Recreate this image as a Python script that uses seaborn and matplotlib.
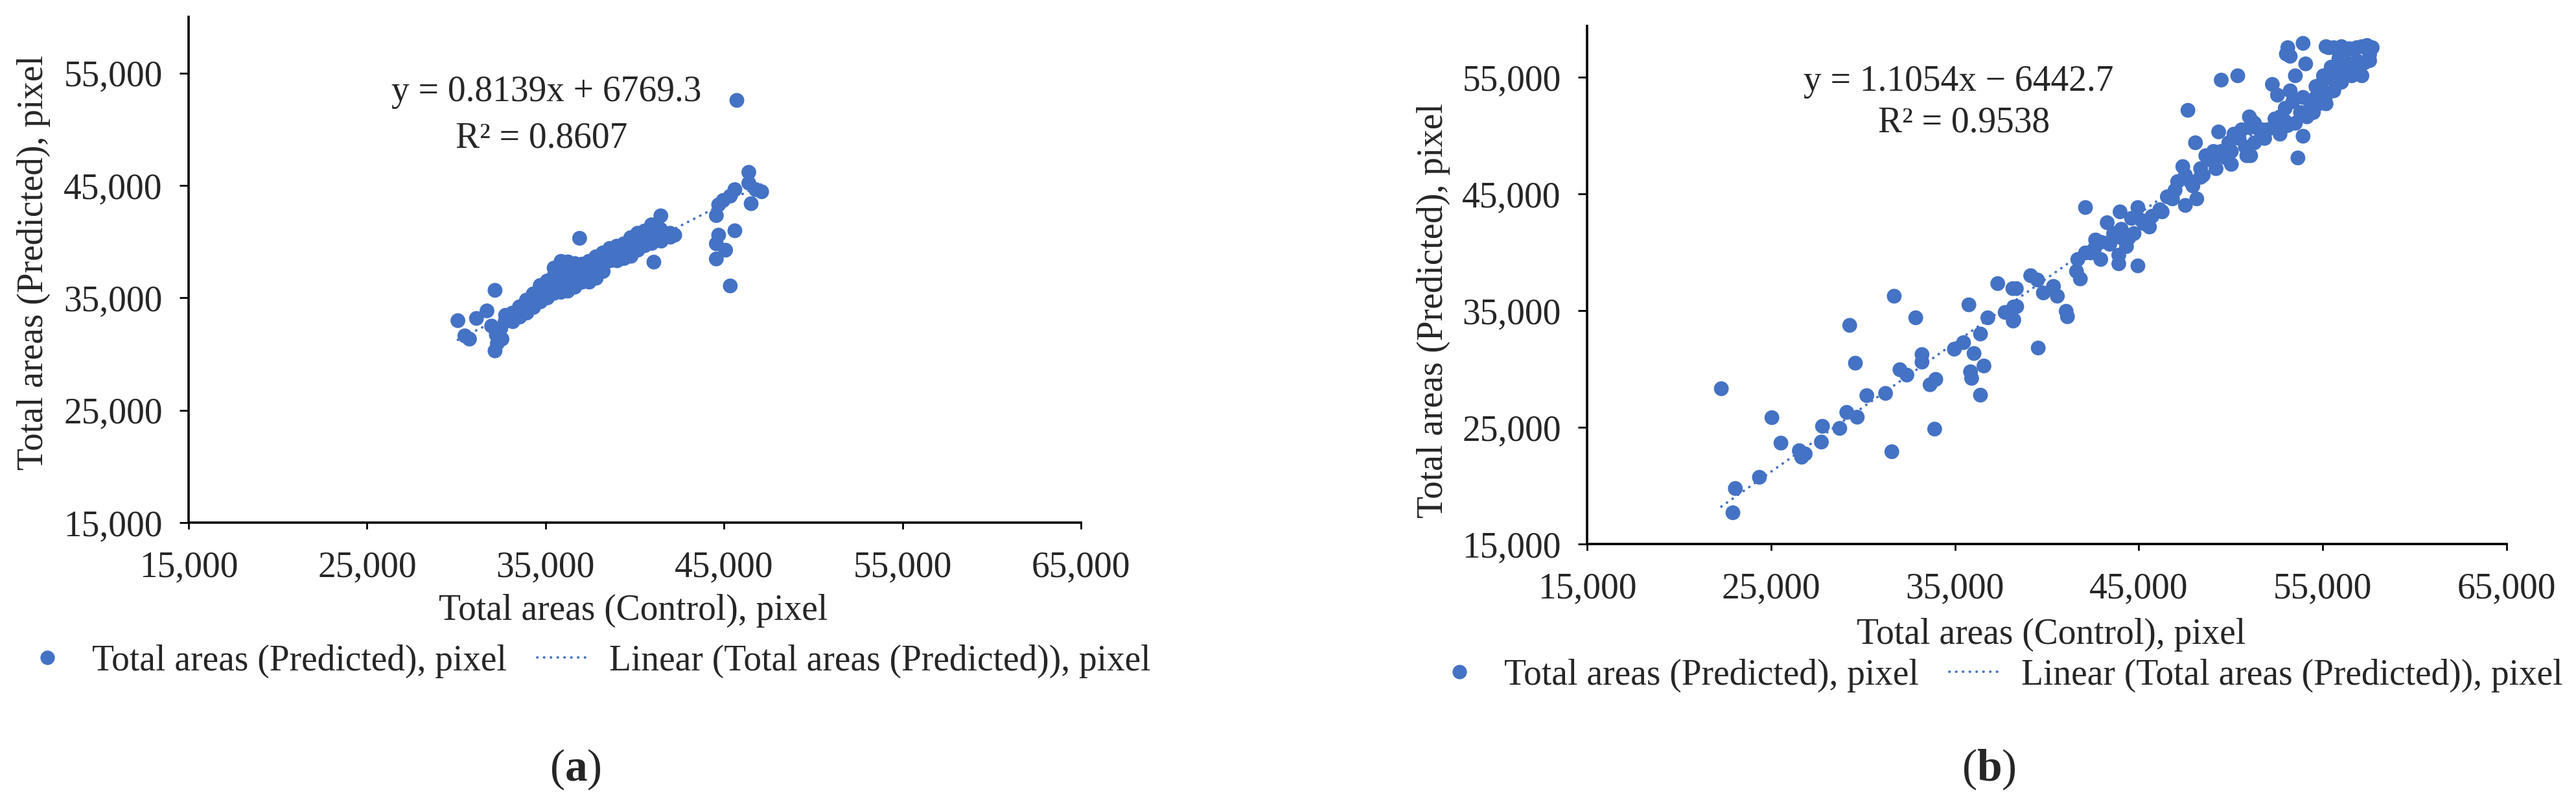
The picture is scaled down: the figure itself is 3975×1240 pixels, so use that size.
import numpy as np
import pandas as pd
import matplotlib
matplotlib.use("Agg")
import matplotlib.pyplot as plt
import seaborn as sns
from matplotlib.lines import Line2D
from matplotlib.ticker import FixedLocator, FuncFormatter

# ---------------- data ----------------
# Panel (a): Total areas (Control) vs Total areas (Predicted), pixel
a_control = [
    30090, 30480, 30740, 31130, 31720, 32170, 31980, 32240, 32300, 32170, 32560, 32500,
    32760, 32740,
    33150, 33130, 33170,
    33540, 33520, 33560,
    33930, 33910, 33950,
    34310, 34290, 34330,
    34700, 34680, 34720,
    35090, 35070, 35110,
    35480, 35460, 35500, 35470,
    35870, 35850, 35890, 35860,
    36260, 36240, 36280, 36250,
    36650, 36630, 36670, 36640,
    37040, 37020, 37060,
    37430, 37410, 37450,
    37820, 37800, 37840,
    38210, 38190, 38230,
    38600, 38620,
    38990, 38970, 39010,
    39380, 39360, 39400,
    39770, 39750, 39790,
    40160, 40140, 40180,
    40550, 40530, 40570,
    40940, 40920, 40960,
    41460, 41440, 41480,
    41980, 42000,
    42240,
    36910, 41070, 45720,
    44570, 44700, 44960, 45350, 45610, 46390, 46390, 46780, 47110, 46520,
    45610, 44700, 44570, 45090, 44570, 45350,
]
a_predicted = [
    32970, 31620, 31330, 33170, 33840, 35670, 32490, 31720, 30950, 30280, 31330, 32300,
    33450, 32900,
    33650, 33250, 32880,
    34200, 33700, 33300,
    34800, 34200, 33650,
    35350, 34750, 34150,
    36100, 35400, 34650,
    36500, 35800, 35000,
    37650, 36900, 36100, 35400,
    38250, 37300, 36400, 35500,
    38200, 37350, 36450, 35600,
    38050, 37300, 36600, 35950,
    38000, 37200, 36400,
    38250, 37300, 36400,
    38650, 37700, 36750,
    39000, 38150, 37350,
    39400, 38300,
    39600, 38900, 38300,
    39800, 39100, 38500,
    40350, 39500, 38700,
    40750, 40000, 39250,
    40950, 40300, 39650,
    41500, 40650, 39850,
    42300, 41100, 40050,
    40750, 40400,
    40580,
    40300, 38180, 52570,
    42320, 43280, 43670, 44050, 44630, 46170, 45210, 44630, 44440, 43380,
    40970, 40580, 39810, 39240, 38460, 36060,
]

# Panel (b)
b_control = [
    22300, 22930, 23060, 24370, 25050, 25540, 26540, 26860, 26670, 27740, 27800, 28740,
    29120, 29690, 29280, 29590, 30210, 31230, 31700, 31570, 32010, 32390, 32870, 33210,
    33210, 33650, 33960, 33900, 34970, 35470, 35760, 36040, 35850, 35910, 36390, 36580,
    36390, 36790, 37330, 38150, 37730, 38360, 38170, 39120, 39490, 39810, 39530,
    38200, 38200, 38340, 40360, 40570, 41050, 41120, 41610, 41820, 42100, 42100, 42590,
    42930, 43280, 43420, 43910, 43980, 43910, 44050, 44330, 44740, 44950, 44950, 45300,
    45580, 46270, 46830, 46970, 47390, 47670, 47530, 47810, 48080, 48150, 48500, 48920,
    49340, 49060, 49480, 49750, 50030, 50380, 50450, 50800, 51010, 51080, 51290, 51700,
    51840, 51980, 52400, 52260, 52540, 52680, 52950, 53100, 53230, 53510, 53650, 53790,
    53930, 53930, 54070, 53930, 54350, 54630, 54770, 55040, 55180, 55320, 55460, 55740,
    55880, 56020, 56300, 56580, 56850, 57130, 57410, 57550, 57690,
    55180, 55600, 56020, 56440, 57130, 57550, 57270, 56850, 56160, 55740, 55320, 54900,
    55600, 55040, 54630, 54490, 55180, 56020, 56580, 56990, 54140, 53510, 53100, 52680,
    53370, 52960, 52400, 51560, 51290, 53230, 53020,
    46550, 47110, 47530, 47940, 48360, 48640, 49060, 49480, 49890, 50170, 50590, 51010,
    51150, 50870, 50030, 49200, 48360,
    41680, 42380, 42650, 42930, 43630, 44050, 44460, 44600, 45160, 45720, 46140,
]
b_predicted = [
    28310, 17680, 19760, 20720, 25830, 23650, 23000, 22720, 22440, 23740, 25090, 24910,
    26280, 25870, 33740, 30500, 27720, 27910, 36240, 22910, 29940, 29480, 34390, 31240,
    30590, 28650, 29110, 24850, 31700, 32260, 35500, 31330, 29760, 29200, 33000, 30260,
    27760, 34390, 37320, 36890, 34850, 35350, 34110, 38000, 37630, 36520, 31800,
    34210, 35320, 36890, 37080, 36240, 34950, 34480, 38370, 37720, 43840, 39950, 40320,
    39390, 42540, 40690, 39760, 43470, 39020, 41240, 40500, 41610, 43840, 38840, 42450,
    42170, 43470, 44580, 45320, 47350, 52170, 44020, 46060, 49390, 44580, 46610, 47910,
    50320, 48650, 54760, 48090, 47540, 55130, 49760, 49020, 51610, 48280, 51060, 50500,
    49760, 50500, 51430, 54390, 53470, 50130, 51240, 57540, 56800, 55130, 48090, 51980,
    57910, 49950, 56150, 53280, 52540, 54210, 52720, 55130, 53470, 57540, 55870, 54390,
    56610, 55320, 57360, 56060, 57540, 55130, 57730, 56430, 57540,
    57630, 57540, 57630, 57450, 57630, 56980, 56240, 56430, 56430, 55690, 54950, 54390,
    53840, 53100, 53280, 51980, 52730, 54580, 55130, 55500, 51610, 51060, 50870, 51610,
    52910, 52350, 50690, 50500, 49390, 53840, 56990,
    44760, 46060, 46610, 45690, 47170, 48280, 47910, 48650, 49390, 50130, 50500, 50690,
    51240, 48280, 48650, 47170, 46430,
    39390, 39950, 41060, 40870, 41610, 41980, 41240, 42910, 42720, 43090, 43650,
]

# Linear trendlines as reported on the chart
a_slope, a_intercept = 0.8139, 6769.3
b_slope, b_intercept = 1.1054, -6442.7
a_eq_text = ["y = 0.8139x + 6769.3", "R\u00b2 = 0.8607"]
b_eq_text = ["y = 1.1054x \u2212 6442.7", "R\u00b2 = 0.9538"]

x_ticks = [15000, 25000, 35000, 45000, 55000, 65000]
y_ticks = [15000, 25000, 35000, 45000, 55000]
x_label = "Total areas (Control), pixel"
y_label = "Total areas (Predicted), pixel"
series_label = "Total areas (Predicted), pixel"
trend_label = "Linear (Total areas (Predicted)), pixel"
panel_labels = ["a", "b"]

# ---------------- style ----------------
sns.set_theme(style="white")
plt.rcParams['font.family'] = ['Liberation Serif', 'DejaVu Serif']
plt.rcParams['mathtext.fontset'] = 'custom'
plt.rcParams['mathtext.rm'] = 'Liberation Serif'
plt.rcParams['mathtext.bf'] = 'Liberation Serif:bold'

BLUE = '#4472C4'
FS = 40
W, H = 3975, 1240
TREND_STYLE = (0, (0.1, 2.6))

fig = plt.figure(figsize=(W / 100, H / 100), dpi=100)
fig.patch.set_facecolor('white')


def fx(px):
    return px / W


def fy(py):
    return 1 - py / H


def make_panel(rect, xs, ys, slope, intercept, ylim_top):
    ax = fig.add_axes(rect)
    df = pd.DataFrame({'x': xs, 'y': ys})
    xr = np.array([min(xs), max(xs)], dtype=float)
    ax.plot(xr, slope * xr + intercept, color=BLUE, lw=2.8,
            linestyle=TREND_STYLE, dash_capstyle='round', zorder=1)
    sns.scatterplot(data=df, x='x', y='y', ax=ax, color=BLUE, s=270,
                    linewidth=0, edgecolor='none', alpha=1, zorder=2, legend=False)
    ax.set_xlim(15000, 65000)
    ax.set_ylim(15000, ylim_top)
    ax.xaxis.set_major_locator(FixedLocator(x_ticks))
    ax.yaxis.set_major_locator(FixedLocator(y_ticks))
    fmt = FuncFormatter(lambda v, p: f"{int(v):,}")
    ax.xaxis.set_major_formatter(fmt)
    ax.yaxis.set_major_formatter(fmt)
    ax.set_xlabel('')
    ax.set_ylabel('')
    for s in ['top', 'right']:
        ax.spines[s].set_visible(False)
    for s in ['left', 'bottom']:
        ax.spines[s].set_color('black')
        ax.spines[s].set_linewidth(2.6)
    ax.tick_params(axis='x', which='major', direction='out', length=7, width=2,
                   color='black', labelsize=FS, pad=24, bottom=True)
    ax.tick_params(axis='y', which='major', direction='out', length=10, width=2,
                   color='black', labelsize=FS, pad=19, left=True)
    ax.set_facecolor('white')
    ax.grid(False)
    return ax


ax_a = make_panel([fx(291), fy(806), fx(1668) - fx(291), fy(26) - fy(806)],
                  a_control, a_predicted, a_slope, a_intercept, 60000)
ax_b = make_panel([fx(2449), fy(839), fx(3868) - fx(2449), fy(40) - fy(839)],
                  b_control, b_predicted, b_slope, b_intercept, 59400)

# axis titles
fig.text(fx(977), fy(942), x_label, ha='center', va='center', fontsize=FS)
fig.text(fx(3165), fy(979), x_label, ha='center', va='center', fontsize=FS)
fig.text(fx(52), fy(405), y_label, ha='center', va='center', fontsize=FS, rotation=90)
fig.text(fx(2212), fy(479), y_label, ha='center', va='center', fontsize=FS, rotation=90)

# equations
fig.text(fx(843), fy(142), a_eq_text[0], ha='center', va='center', fontsize=FS)
fig.text(fx(836), fy(213), a_eq_text[1], ha='center', va='center', fontsize=FS)
fig.text(fx(3022), fy(126), b_eq_text[0], ha='center', va='center', fontsize=FS)
fig.text(fx(3031), fy(189), b_eq_text[1], ha='center', va='center', fontsize=FS)

# legends
handles = [
    Line2D([], [], marker='o', linestyle='none', color=BLUE, markersize=16, markeredgewidth=0),
    Line2D([], [], color=BLUE, lw=2.8, linestyle=TREND_STYLE, dash_capstyle='round'),
]
for ax, x0, yc in [(ax_a, 31, 1020), (ax_b, 2210, 1042)]:
    leg = ax.legend(handles, [series_label, trend_label], ncol=2, frameon=False,
                    loc='center left', bbox_to_anchor=(fx(x0), fy(yc)),
                    bbox_transform=fig.transFigure, fontsize=FS, borderpad=0,
                    borderaxespad=0, handlelength=1.5, handletextpad=0.5,
                    columnspacing=0.85)

# panel labels
fig.text(fx(888), fy(1187), r"($\mathbf{" + panel_labels[0] + r"}$)", ha='center',
         va='center', fontsize=50)
fig.text(fx(3069), fy(1187), r"($\mathbf{" + panel_labels[1] + r"}$)", ha='center',
         va='center', fontsize=50)

fig.savefig('out.png', dpi=100, facecolor='white')
